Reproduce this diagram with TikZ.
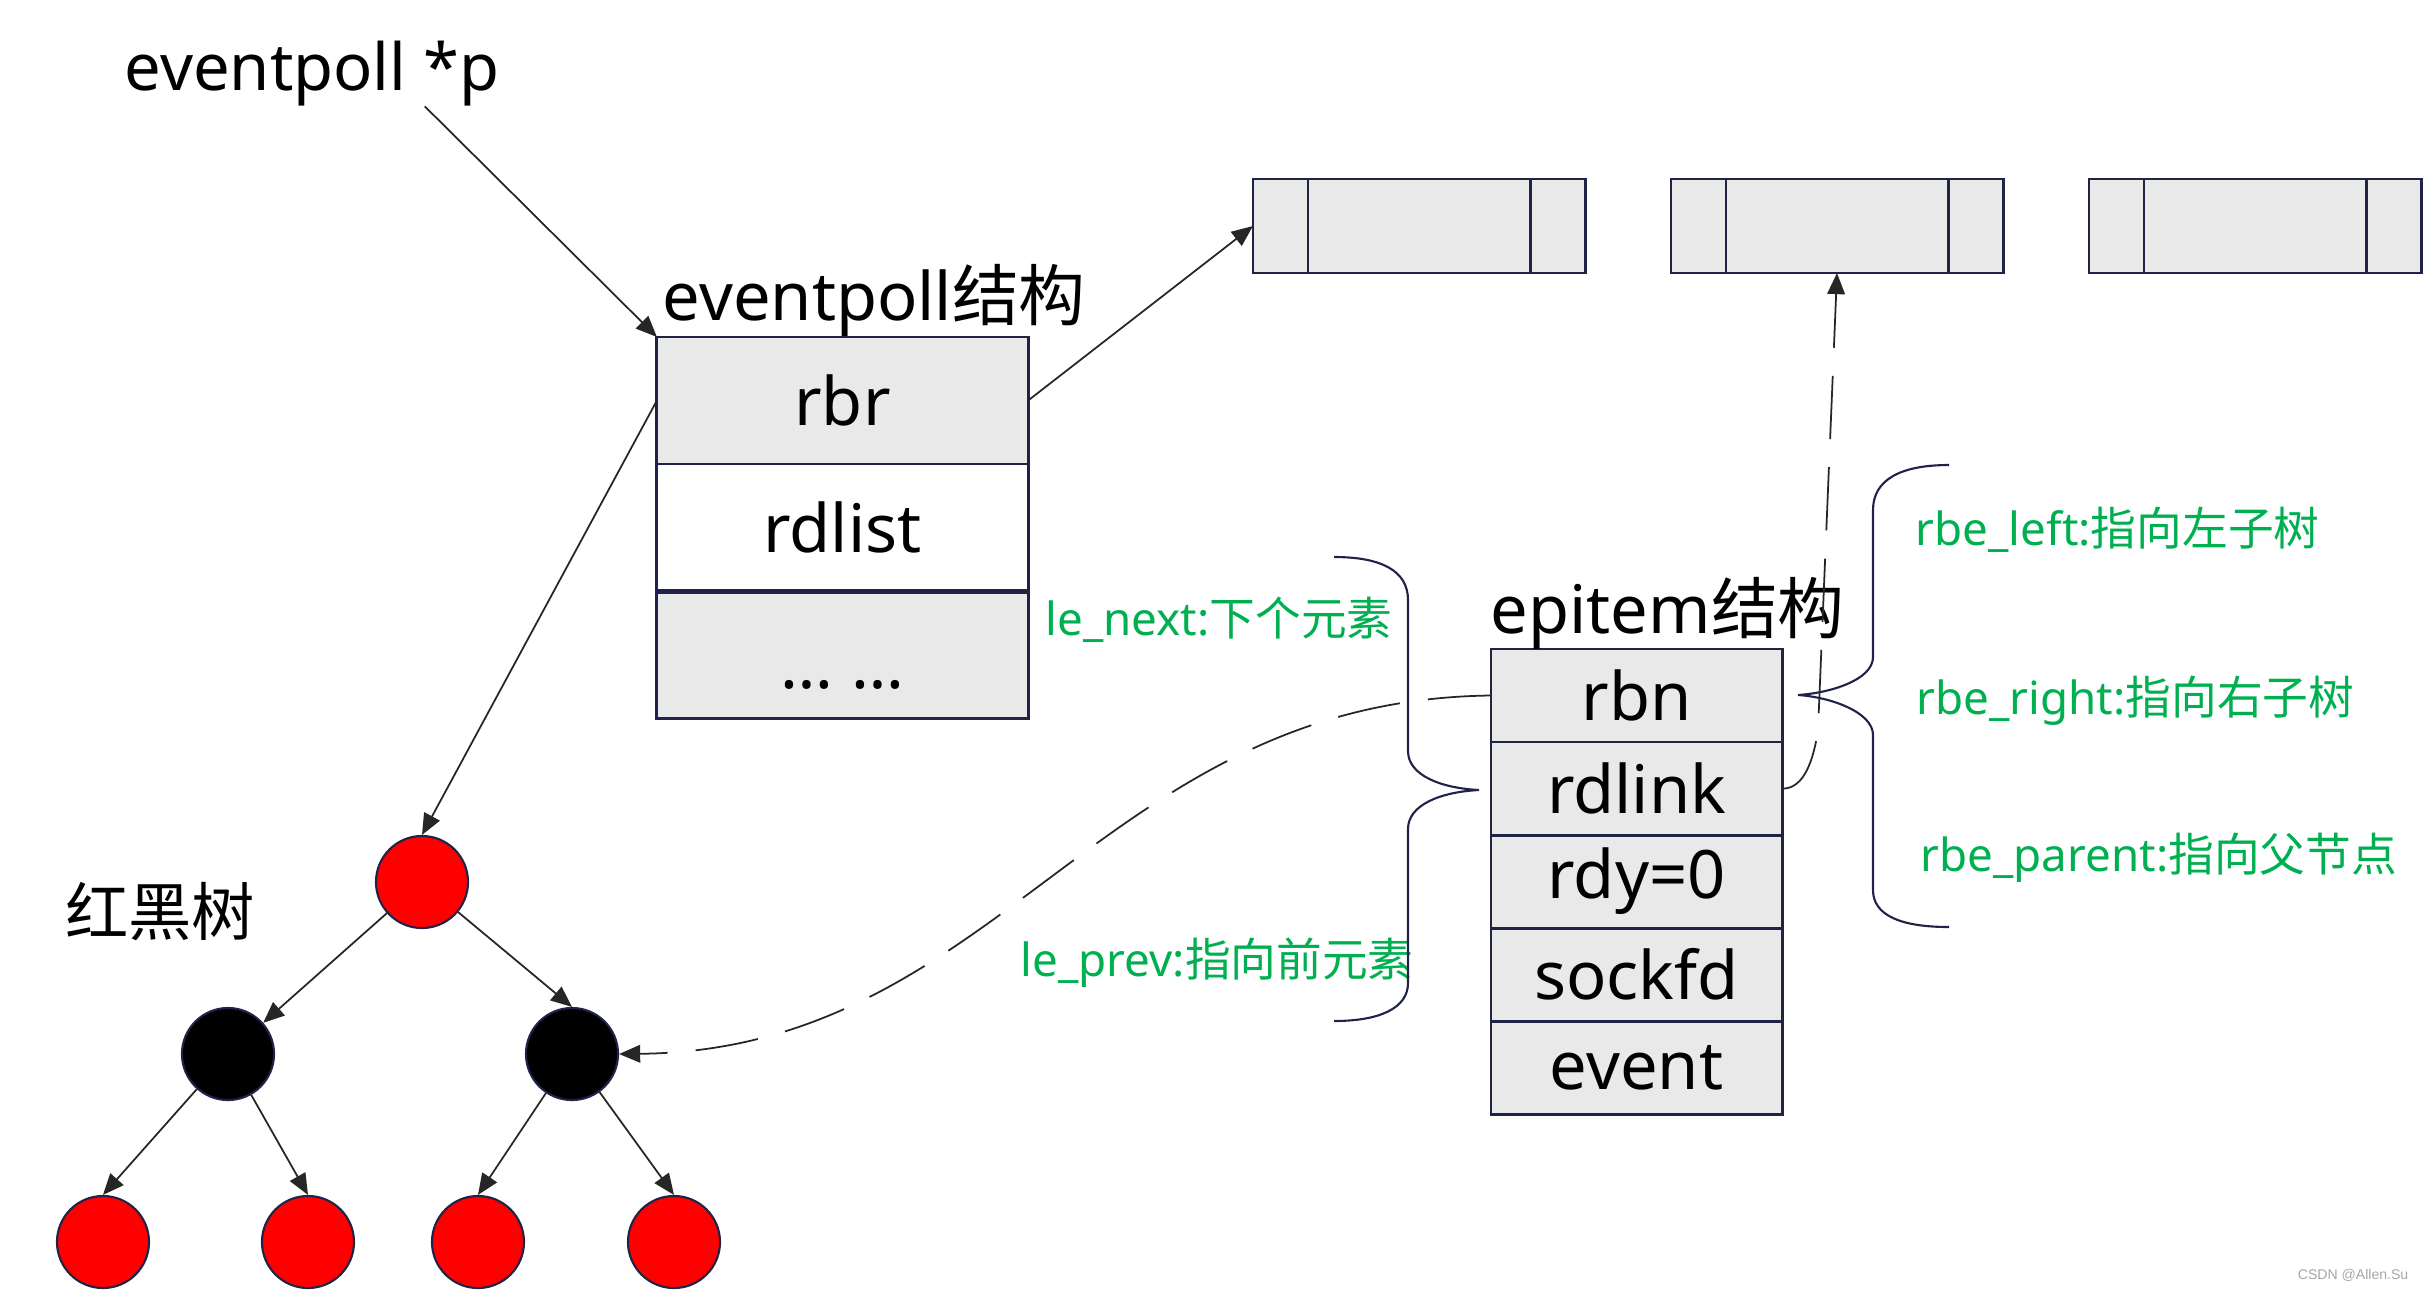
\documentclass[tikz,border=0pt]{standalone}
\usepackage{fontspec}
\setmainfont{Noto Sans}
\newfontfamily\cjk{Noto Sans CJK SC}
\newfontfamily\markfont{Liberation Sans}
\usetikzlibrary{positioning,arrows.meta,calc}

\definecolor{cellgray}{RGB}{233,233,233}
\definecolor{boxline}{RGB}{31,35,72}
\definecolor{notegreen}{RGB}{0,176,80}
\definecolor{nodered}{RGB}{255,0,0}

\tikzset{
  cell/.style = {draw=boxline, line width=0.8pt, fill=cellgray, minimum width=3.71cm,
    minimum height=1.27cm, inner sep=0pt, outer sep=0pt, font=\fontsize{19}{22}\selectfont},
  ecell/.style = {cell, minimum width=2.91cm, minimum height=0.93cm},
  listbox/.style = {draw=boxline, line width=0.8pt, fill=cellgray, minimum width=3.32cm,
    minimum height=0.94cm, inner sep=0pt, outer sep=0pt},
  rbnode/.style = {circle, draw=boxline, line width=0.6pt, minimum size=0.92cm, inner sep=0pt},
  heading/.style = {font=\fontsize{19}{22}\selectfont, inner sep=0pt, anchor=base west},
  note/.style = {text=notegreen, font=\fontsize{13}{15}\selectfont, inner sep=0pt, anchor=base west},
  link/.style = {-{Triangle[length=6pt,width=5pt]}, line width=0.5pt, draw=black!85},
  dlink/.style = {link, dash pattern=on 18pt off 8pt},
  bracket/.style = {draw=boxline, line width=0.6pt},
}

\begin{document}
\begin{tikzpicture}[x=0.01cm, y=-0.01cm]
    \useasboundingbox (0,0) rectangle (2424,1290);

    \node[heading, font=\fontsize{18.5}{22}\selectfont] (ptr) at (124,90) {eventpoll *p};

    \node[cell] (rbr) at (842.5,400.5) {rbr};
    \node[cell, fill=white, below=0pt of rbr] (rdlist) {rdlist};
    \node[cell, below=0pt of rdlist, text depth=0pt] (etc) {\raisebox{-9.5pt}[0pt][0pt]{… …}};
    \draw[boxline, line width=1.4pt] (rdlist.south west) -- (rdlist.south east);
    \node[heading] (eptitle) at (662,320) {eventpoll{\cjk 结构}};

    \foreach \i/\x in {1/1419,2/1837,3/2255} {
      \node[listbox] (lb\i) at (\x,226) {};
      \draw[boxline, line width=0.8pt] ($(lb\i.north west)+(55,0)$) -- ($(lb\i.south west)+(55,0)$);
      \draw[boxline, line width=0.8pt] ($(lb\i.north east)+(-55,0)$) -- ($(lb\i.south east)+(-55,0)$);
    }

    \node[rbnode, fill=nodered] (root) at (422,882) {};
    \node[rbnode, fill=black] (bl) at (228,1054) {};
    \node[rbnode, fill=black] (br) at (572,1054) {};
    \node[rbnode, fill=nodered] (l1) at (103,1242) {};
    \node[rbnode, fill=nodered] (l2) at (308,1242) {};
    \node[rbnode, fill=nodered] (l3) at (478,1242) {};
    \node[rbnode, fill=nodered] (l4) at (674,1242) {};
    \node[inner sep=0pt, font=\cjk\fontsize{18}{20}\selectfont] (rbt) at (160,912) {红黑树};

    \node[ecell] (rbn) at (1636.5,695.5) {rbn};
    \node[ecell, below=0pt of rbn] (rdlink) {rdlink};
    \node[ecell, below=0pt of rdlink] (rdy) {rdy=0};
    \node[ecell, below=0pt of rdy] (sockfd) {sockfd};
    \node[ecell, below=0pt of sockfd] (event) {event};
    \node[heading] (ittitle) at (1490,633) {epitem{\cjk 结构}};

    \node[note] (lenext) at (1045,635) {le\_next:{\cjk 下个元素}};
    \node[note] (leprev) at (1020,976) {le\_prev:{\cjk 指向前元素}};
    \node[note] (rbeleft) at (1915,545) {rbe\_left:{\cjk 指向左子树}};
    \node[note] (rberight) at (1916,714) {rbe\_right:{\cjk 指向右子树}};
    \node[note] (rbeparent) at (1920,871) {rbe\_parent:{\cjk 指向父节点}};

    \draw[bracket] (1334,557) .. controls (1380,557) and (1408,570) .. (1408,600) -- (1408,751)
      .. controls (1408,775) and (1440,788) .. (1479,790)
      .. controls (1440,792) and (1408,805) .. (1408,829) -- (1408,983)
      .. controls (1408,1008) and (1380,1021) .. (1334,1021);
    \draw[bracket] (1949,465) .. controls (1900,465) and (1873,480) .. (1873,510) -- (1873,657)
      .. controls (1873,680) and (1830,693) .. (1798,695)
      .. controls (1830,697) and (1873,712) .. (1873,735) -- (1873,890)
      .. controls (1873,915) and (1900,927) .. (1949,927);

    \draw[link] ($(ptr.south west)!0.8!(ptr.south east)$) -- (rbr.north west);
    \draw[link] (rbr.east) -- (lb1.west);
    \draw[link] (rbr.west) -- (root.north);
    \draw[link] (root) -- (bl);
    \draw[link] (root) -- (br.north);
    \draw[link] (bl) -- (l1.north);
    \draw[link] (bl) -- (l2.north);
    \draw[link] (br) -- (l3.north);
    \draw[link] (br) -- (l4.north);

    \draw[dlink] (rbn.west) .. controls (1100,700) and (1000,1050) .. (br.east);
    \draw[dlink] (rdlink.east) .. controls (1800,789) and (1812,770) .. (1818,730) -- (lb2.south);

    \node[inner sep=0pt, anchor=east, text=gray!70, font=\markfont\fontsize{4}{5}\selectfont] (mark) at (2409,1275) {CSDN @Allen.Su};
\end{tikzpicture}
\end{document}
